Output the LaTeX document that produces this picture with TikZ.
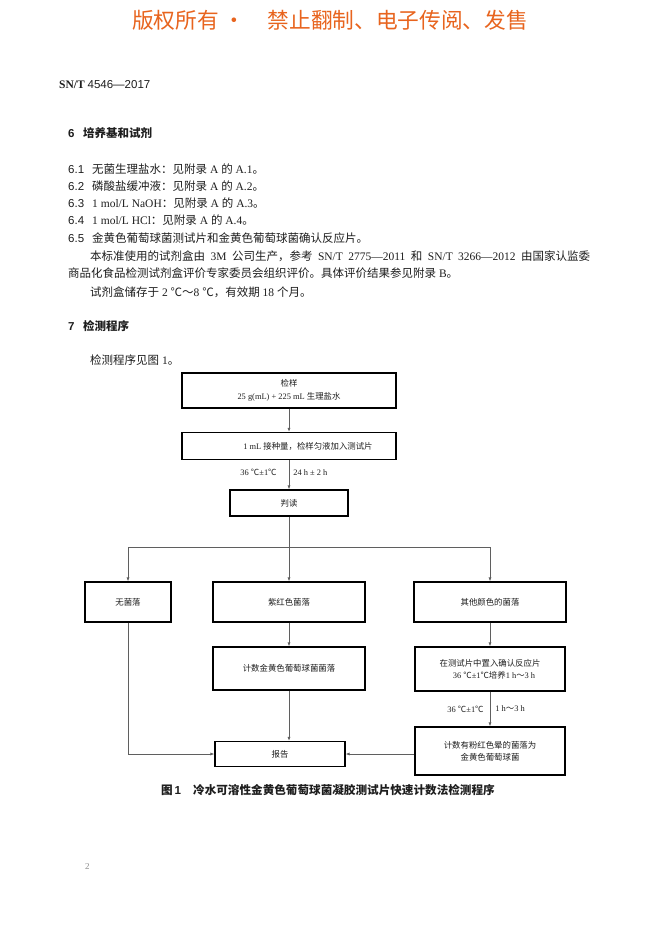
\documentclass[tikz,border=0pt]{standalone}
\usepackage{fontspec}
\setmainfont{Liberation Serif}
\newfontfamily\cjk{Noto Sans CJK SC}
\newfontfamily\sans{Liberation Sans}
\usetikzlibrary{arrows.meta}
\newcommand\zh[1]{{\cjk #1}}
\definecolor{hdr}{RGB}{232,100,30}
\definecolor{ink}{RGB}{30,30,30}
\definecolor{lin}{RGB}{95,95,95}
\begin{document}
\begin{tikzpicture}[x=1pt,y=-1pt,
 txt/.style={anchor=west, inner sep=0pt, font=\fontsize{11.5}{13}\selectfont, text=ink},
 head/.style={txt, font=\fontsize{11.5}{13}\selectfont\bfseries},
 box/.style={draw=black, line width=1.1pt, inner sep=0pt, font=\fontsize{8.4}{12}\selectfont, align=center, text=ink},
 conn/.style={draw=lin, line width=0.8pt},
 arr/.style={conn, -{Latex[length=4pt,width=3pt]}},
 lbl/.style={inner sep=0pt, font=\fontsize{8.4}{10}\selectfont, text=ink}]
\useasboundingbox[fill=white] (0,0) rectangle (662,936);

% header
\node[anchor=west, inner sep=0pt, font=\fontsize{21.7}{24}\selectfont, text=hdr] (hdr) at (132,20)
 {\zh{版权所有}\hspace{5pt}\zh{·}\hspace{22pt}\zh{禁止翻制、电子传阅、发售}};

\node[txt] (std) at (59,85) {{\bfseries SN/T}\ {\sans 4546—2017}};

\node[head] (s6) at (68,133) {\makebox[15pt][l]{\sans 6}\zh{培养基和试剂}};
\node[txt] (l61) at (68,169) {\makebox[24pt][l]{\sans 6.1}\zh{无菌生理盐水：见附录} A \zh{的} A.1\zh{。}};
\node[txt] (l62) at (68,186) {\makebox[24pt][l]{\sans 6.2}\zh{磷酸盐缓冲液：见附录} A \zh{的} A.2\zh{。}};
\node[txt] (l63) at (68,203) {\makebox[24pt][l]{\sans 6.3}1 mol/L NaOH\zh{：见附录} A \zh{的} A.3\zh{。}};
\node[txt] (l64) at (68,220) {\makebox[24pt][l]{\sans 6.4}1 mol/L HCl\zh{：见附录} A \zh{的} A.4\zh{。}};
\node[txt] (l65) at (68,238) {\makebox[24pt][l]{\sans 6.5}\zh{金黄色葡萄球菌测试片和金黄色葡萄球菌确认反应片。}};
\node[txt] (p1) at (90,256) {\makebox[500pt][s]{\zh{本标准使用的试剂盒由} 3M \zh{公司生产，参考} SN/T 2775—2011 \zh{和} SN/T 3266—2012 \zh{由国家认监委}}};
\node[txt] (p2) at (68,273) {\zh{商品化食品检测试剂盒评价专家委员会组织评价。具体评价结果参见附录} B\zh{。}};
\node[txt] (p3) at (90,292) {\zh{试剂盒储存于} 2 \zh{℃～}8 \zh{℃，有效期} 18 \zh{个月。}};

\node[head] (s7) at (68,326) {\makebox[15pt][l]{\sans 7}\zh{检测程序}};
\node[txt] (p4) at (90,360) {\zh{检测程序见图} 1\zh{。}};

% flowchart
\node[box, minimum width=214pt, minimum height=35pt] (b1) at (289,390.5)
 {\zh{检样}\\[1pt]25 g(mL) + 225 mL \zh{生理盐水}};
\node[box, minimum width=214pt, minimum height=27pt] (b2) at (289,446)
 {\hspace*{38pt}1 mL \zh{接种量，检样匀液加入测试片}};
\node[box, minimum width=118pt, minimum height=26pt] (b3) at (289,503) {\zh{判读}};
\coordinate (split) at (289,547);
\node[box, minimum width=86pt, minimum height=40pt] (nocol) at (128,602) {\zh{无菌落}};
\node[box, minimum width=152pt, minimum height=40pt] (purple) at (289,602) {\zh{紫红色菌落}};
\node[box, minimum width=152pt, minimum height=40pt] (other) at (490,602) {\zh{其他颜色的菌落}};
\node[box, minimum width=152pt, minimum height=43pt] (m2) at (289,668.5) {\zh{计数金黄色葡萄球菌菌落}};
\node[box, minimum width=150pt, minimum height=44pt] (r2) at (490,669)
 {\zh{在测试片中置入确认反应片}\\\hspace*{8pt}36 \zh{℃}±1\zh{℃培养}1 h\zh{～}3 h};
\node[box, minimum width=150pt, minimum height=48pt] (r3) at (490,751)
 {\zh{计数有粉红色晕的菌落为}\\\zh{金黄色葡萄球菌}};
\node[box, minimum width=130pt, minimum height=25pt] (rep) at (280,754) {\zh{报告}};

\draw[arr] (b1.south) -- (b2.north);
\draw[arr] (b2.south) -- node[lbl, pos=0.42, left=12pt] {36 \zh{℃}±1\zh{℃}}
                         node[lbl, pos=0.42, right=4pt] {24 h ± 2 h} (b3.north);
\draw[conn] (b3.south) -- (split);
\draw[arr] (split) -| (nocol.north);
\draw[arr] (split) -| (other.north);
\draw[arr] (split) -- (purple.north);
\draw[arr] (purple.south) -- (m2.north);
\draw[arr] (other.south) -- (r2.north);
\draw[arr] (r2.south) -- node[lbl, pos=0.5, left=6pt] {36 \zh{℃}±1\zh{℃}}
                         node[lbl, pos=0.5, right=5pt] {1 h\zh{～}3 h} (r3.north);
\draw[arr] (m2.south) -- (m2.south |- rep.north);
\draw[arr] (nocol.south) |- (rep.west);
\draw[arr] (rep.east -| r3.west) -- (rep.east);

\node[anchor=center, inner sep=0pt, font=\fontsize{11.6}{13}\selectfont\bfseries, text=ink] (cap) at (328,790)
 {\zh{图}\,{\sans 1}\hspace{12pt}\zh{冷水可溶性金黄色葡萄球菌凝胶测试片快速计数法检测程序}};

\node[anchor=west, inner sep=0pt, font=\fontsize{9}{10}\selectfont, text=black!45] (pg) at (85,867) {2};
\end{tikzpicture}
\end{document}
